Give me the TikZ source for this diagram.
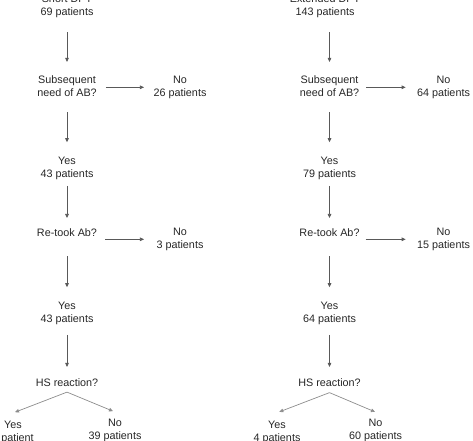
\documentclass[tikz,border=0pt]{standalone}
\usepackage{fontspec}
\setmainfont{Liberation Sans}
\usetikzlibrary{arrows.meta,calc}
\begin{document}
\begin{tikzpicture}[x=1pt,y=-1pt,
  lbl/.style={align=center, inner sep=0pt, outer sep=0pt, text=black!85,
              font=\fontsize{10.8}{13}\selectfont},
  arr/.style={draw=black!65, line width=0.7pt, -{Triangle[length=4pt,width=3.6pt]}},
  darr/.style={arr, draw=black!45}]
\clip (0,0) rectangle (473,440);
\useasboundingbox (0,0) rectangle (473,440);

% ---------- left column ----------
\node[lbl] (sA)    at (67,5.8)    {Short DPT\\69 patients};
\node[lbl] (subA)  at (67,86.15)  {Subsequent\\need of AB?};
\node[lbl] (noA1)  at (180,87.3)  {No\\26 patients};
\node[lbl] (yesA1) at (67,168.3)  {Yes\\43 patients};
\node[lbl] (reA)   at (67,232.2)  {Re-took Ab?};
\node[lbl] (noA2)  at (180,239.3) {No\\3 patients};
\node[lbl] (yesA2) at (67,313.3)  {Yes\\43 patients};
\node[lbl] (hsA)   at (67,382.65) {HS reaction?};
\node[lbl] (yesA3) at (13,432.8)  {Yes\\1 patient};
\node[lbl] (noA3)  at (115,430.8) {No\\39 patients};

\draw[arr,shorten <=14.7pt,shorten >=13.8pt] (sA.south) -- (subA.north);
\draw[arr,shorten <=15.5pt,shorten >=14.8pt] (subA.south) -- (yesA1.north);
\draw[arr,shorten <=6.2pt,shorten >=10.3pt] (yesA1.south) -- (reA.north);
\draw[arr,shorten <=20pt,shorten >=14.8pt] (reA.south) -- (yesA2.north);
\draw[arr,shorten <=10.2pt,shorten >=11.8pt] (yesA2.south) -- (hsA.north);
\draw[arr,shorten <=9.2pt,shorten >=9.6pt] (subA.east |- noA1.west) -- (noA1.west);
\draw[arr,shorten <=8pt,shorten >=12.6pt] (reA.east |- noA2.west) -- (noA2.west);
\draw[darr] ($(hsA.south)+(0,5.5)$) -- ($(yesA3.north)+(2,-9.3)$);
\draw[darr] ($(hsA.south)+(0,5.5)$) -- ($(noA3.north)+(-2,-8.3)$);

% ---------- right column ----------
\node[lbl] (sB)    at (325,5.8)     {Extended DPT\\143 patients};
\node[lbl] (subB)  at (329.5,86.15) {Subsequent\\need of AB?};
\node[lbl] (noB1)  at (443.5,87.3)  {No\\64 patients};
\node[lbl] (yesB1) at (329.5,168.3) {Yes\\79 patients};
\node[lbl] (reB)   at (329.5,232.2) {Re-took Ab?};
\node[lbl] (noB2)  at (443.5,239.3) {No\\15 patients};
\node[lbl] (yesB2) at (329.5,313.3) {Yes\\64 patients};
\node[lbl] (hsB)   at (329.5,382.65){HS reaction?};
\node[lbl] (yesB3) at (277,432.8)   {Yes\\4 patients};
\node[lbl] (noB3)  at (375.5,430.8) {No\\60 patients};

\draw[arr,shorten <=14.7pt,shorten >=13.8pt] (sB.south -| subB.north) -- (subB.north);
\draw[arr,shorten <=15.5pt,shorten >=14.8pt] (subB.south) -- (yesB1.north);
\draw[arr,shorten <=6.2pt,shorten >=10.3pt] (yesB1.south) -- (reB.north);
\draw[arr,shorten <=20pt,shorten >=14.8pt] (reB.south) -- (yesB2.north);
\draw[arr,shorten <=10.2pt,shorten >=11.8pt] (yesB2.south) -- (hsB.north);
\draw[arr,shorten <=7.2pt,shorten >=11.4pt] (subB.east |- noB1.west) -- (noB1.west);
\draw[arr,shorten <=6pt,shorten >=11.4pt] (reB.east |- noB2.west) -- (noB2.west);
\draw[darr] ($(hsB.south)+(0,6)$) -- ($(yesB3.north)+(2.3,-9.6)$);
\draw[darr] ($(hsB.south)+(0,6)$) -- ($(noB3.north)+(-0.5,-7.6)$);
\end{tikzpicture}
\end{document}
